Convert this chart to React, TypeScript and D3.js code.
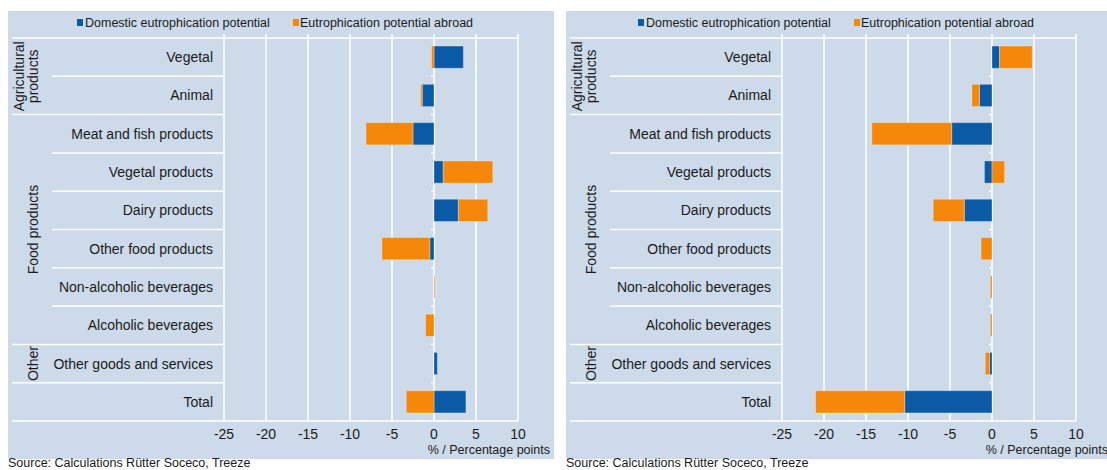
import * as d3 from "d3";

// categories, top to bottom
const categories = [
  "Vegetal",
  "Animal",
  "Meat and fish products",
  "Vegetal products",
  "Dairy products",
  "Other food products",
  "Non-alcoholic beverages",
  "Alcoholic beverages",
  "Other goods and services",
  "Total",
];

// left panel
const leftDomestic = [3.5, -1.4, -2.5, 1.1, 2.9, -0.5, 0, 0, 0.4, 3.8];
const leftAbroad = [-0.3, -0.2, -5.6, 5.9, 3.5, -5.7, 0.1, -1.0, 0, -3.3];

// right panel
const rightDomestic = [0.9, -1.5, -4.8, -0.9, -3.3, 0, 0, 0, -0.3, -10.4];
const rightAbroad = [3.9, -0.9, -9.5, 1.5, -3.7, -1.3, -0.2, -0.2, -0.5, -10.6];

const groups = [
  { lines: ["Agricultural", "products"], from: 0, to: 1 },
  { lines: ["Food products"], from: 2, to: 7 },
  { lines: ["Other"], from: 8, to: 8 },
];
// rows after which a long separator is drawn
const groupBreaks = [1, 7, 8];

const xTicks = [-25, -20, -15, -10, -5, 0, 5, 10];
const seriesNames = ["Domestic eutrophication potential", "Eutrophication potential abroad"];
const colors = ["#0b5aa6", "#f5870a"];

const BG = "#cddaea";
const FONT = "'Liberation Sans', Arial, sans-serif";
const INK = "#1a1a1a";

const Panel = ({ ox, domestic, abroad, bgWidth, legendX }) => {
  const x = d3.scaleLinear().domain([-25, 10]).range([224 + ox, 518 + ox]);
  const yRows = d3.scaleBand().domain(categories).range([38, 421]);
  const y = d3.scaleBand().domain(categories).range([38, 421]).paddingInner(0.42).paddingOuter(0.21);

  const table = categories.map((c, i) => ({ cat: c, d: domestic[i], a: abroad[i] }));
  const stacked = d3.stack().keys(["d", "a"]).offset(d3.stackOffsetDiverging)(table);

  const bounds = d3.range(categories.length + 1).map((i) =>
    i < categories.length ? yRows(categories[i]) : yRows.range()[1]
  );
  const longLine = (i) => i === 0 || i === categories.length || groupBreaks.includes(i - 1);

  return (
    <g>
      <rect x={8 + ox} y={11} width={bgWidth} height={448} fill={BG} />
      {/* legend */}
      <g fontFamily={FONT} fontSize={12.5} fill={INK}>
        <rect x={legendX} y={19} width={6} height={7} fill={colors[0]} />
        <text x={legendX + 8} y={23} dominantBaseline="central">{seriesNames[0]}</text>
        <rect x={legendX + 216} y={19} width={6} height={7} fill={colors[1]} />
        <text x={legendX + 223} y={23} dominantBaseline="central">{seriesNames[1]}</text>
      </g>
      {/* vertical grid */}
      {xTicks.map((t) => (
        <line key={t} x1={x(t)} x2={x(t)} y1={34} y2={421} stroke="#fff" strokeWidth={1.5} />
      ))}
      {/* row separators */}
      {bounds.map((b, i) => (
        <line
          key={i}
          x1={(longLine(i) ? 12 : 52) + ox}
          x2={i === 0 || i === categories.length ? x(10) : x(-25)}
          y1={b}
          y2={b}
          stroke="#fff"
          strokeWidth={1.5}
        />
      ))}
      {/* small ticks on the zero line */}
      {bounds.slice(1, -1).map((b, i) => (
        <line key={i} x1={x(0) - 3} x2={x(0)} y1={b} y2={b} stroke="#fff" strokeWidth={1.5} />
      ))}
      {/* bars */}
      {stacked.map((s, si) =>
        s.map((d, i) => {
          const x0 = x(Math.min(d[0], d[1]));
          const x1 = x(Math.max(d[0], d[1]));
          if (x1 - x0 < 0.1) return null;
          return (
            <rect
              key={si + "-" + i}
              x={x0}
              y={y(categories[i])}
              width={x1 - x0}
              height={y.bandwidth()}
              fill={colors[si]}
              stroke="rgba(255,255,255,0.3)"
              strokeWidth={1}
            />
          );
        })
      )}
      {/* category labels */}
      <g fontFamily={FONT} fontSize={14} fill={INK} textAnchor="end">
        {categories.map((c) => (
          <text key={c} x={213 + ox} y={yRows(c) + yRows.bandwidth() / 2} dominantBaseline="central">
            {c}
          </text>
        ))}
      </g>
      {/* group labels */}
      <g fontFamily={FONT} fontSize={14} fill={INK} textAnchor="middle">
        {groups.map((g) => {
          const cy = (bounds[g.from] + bounds[g.to + 1]) / 2;
          return g.lines.map((ln, li) => {
            const cx = 33 + ox - (g.lines.length - 1 - li) * 14;
            return (
              <text
                key={ln}
                x={cx}
                y={cy}
                dominantBaseline="central"
                transform={`rotate(-90 ${cx} ${cy})`}
              >
                {ln}
              </text>
            );
          });
        })}
      </g>
      {/* x tick labels */}
      <g fontFamily={FONT} fontSize={14} fill={INK} textAnchor="middle">
        {xTicks.map((t) => (
          <text key={t} x={x(t)} y={434} dominantBaseline="central">
            {t}
          </text>
        ))}
      </g>
      <text x={550 + ox} y={449.5} fontFamily={FONT} fontSize={12.5} fill={INK} textAnchor="end" dominantBaseline="central">
        % / Percentage points
      </text>
      <text x={8 + ox} y={463} fontFamily={FONT} fontSize={12.5} fill={INK} dominantBaseline="central">
        Source: Calculations Rütter Soceco, Treeze
      </text>
    </g>
  );
};

export default function App() {
  return (
    <svg
      width={1107}
      height={470}
      style={{ position: "absolute", left: 0, top: 0, background: "#fff" }}
    >
      <Panel ox={0} domestic={leftDomestic} abroad={leftAbroad} bgWidth={546} legendX={77} />
      <Panel ox={558} domestic={rightDomestic} abroad={rightAbroad} bgWidth={541} legendX={638} />
    </svg>
  );
}
